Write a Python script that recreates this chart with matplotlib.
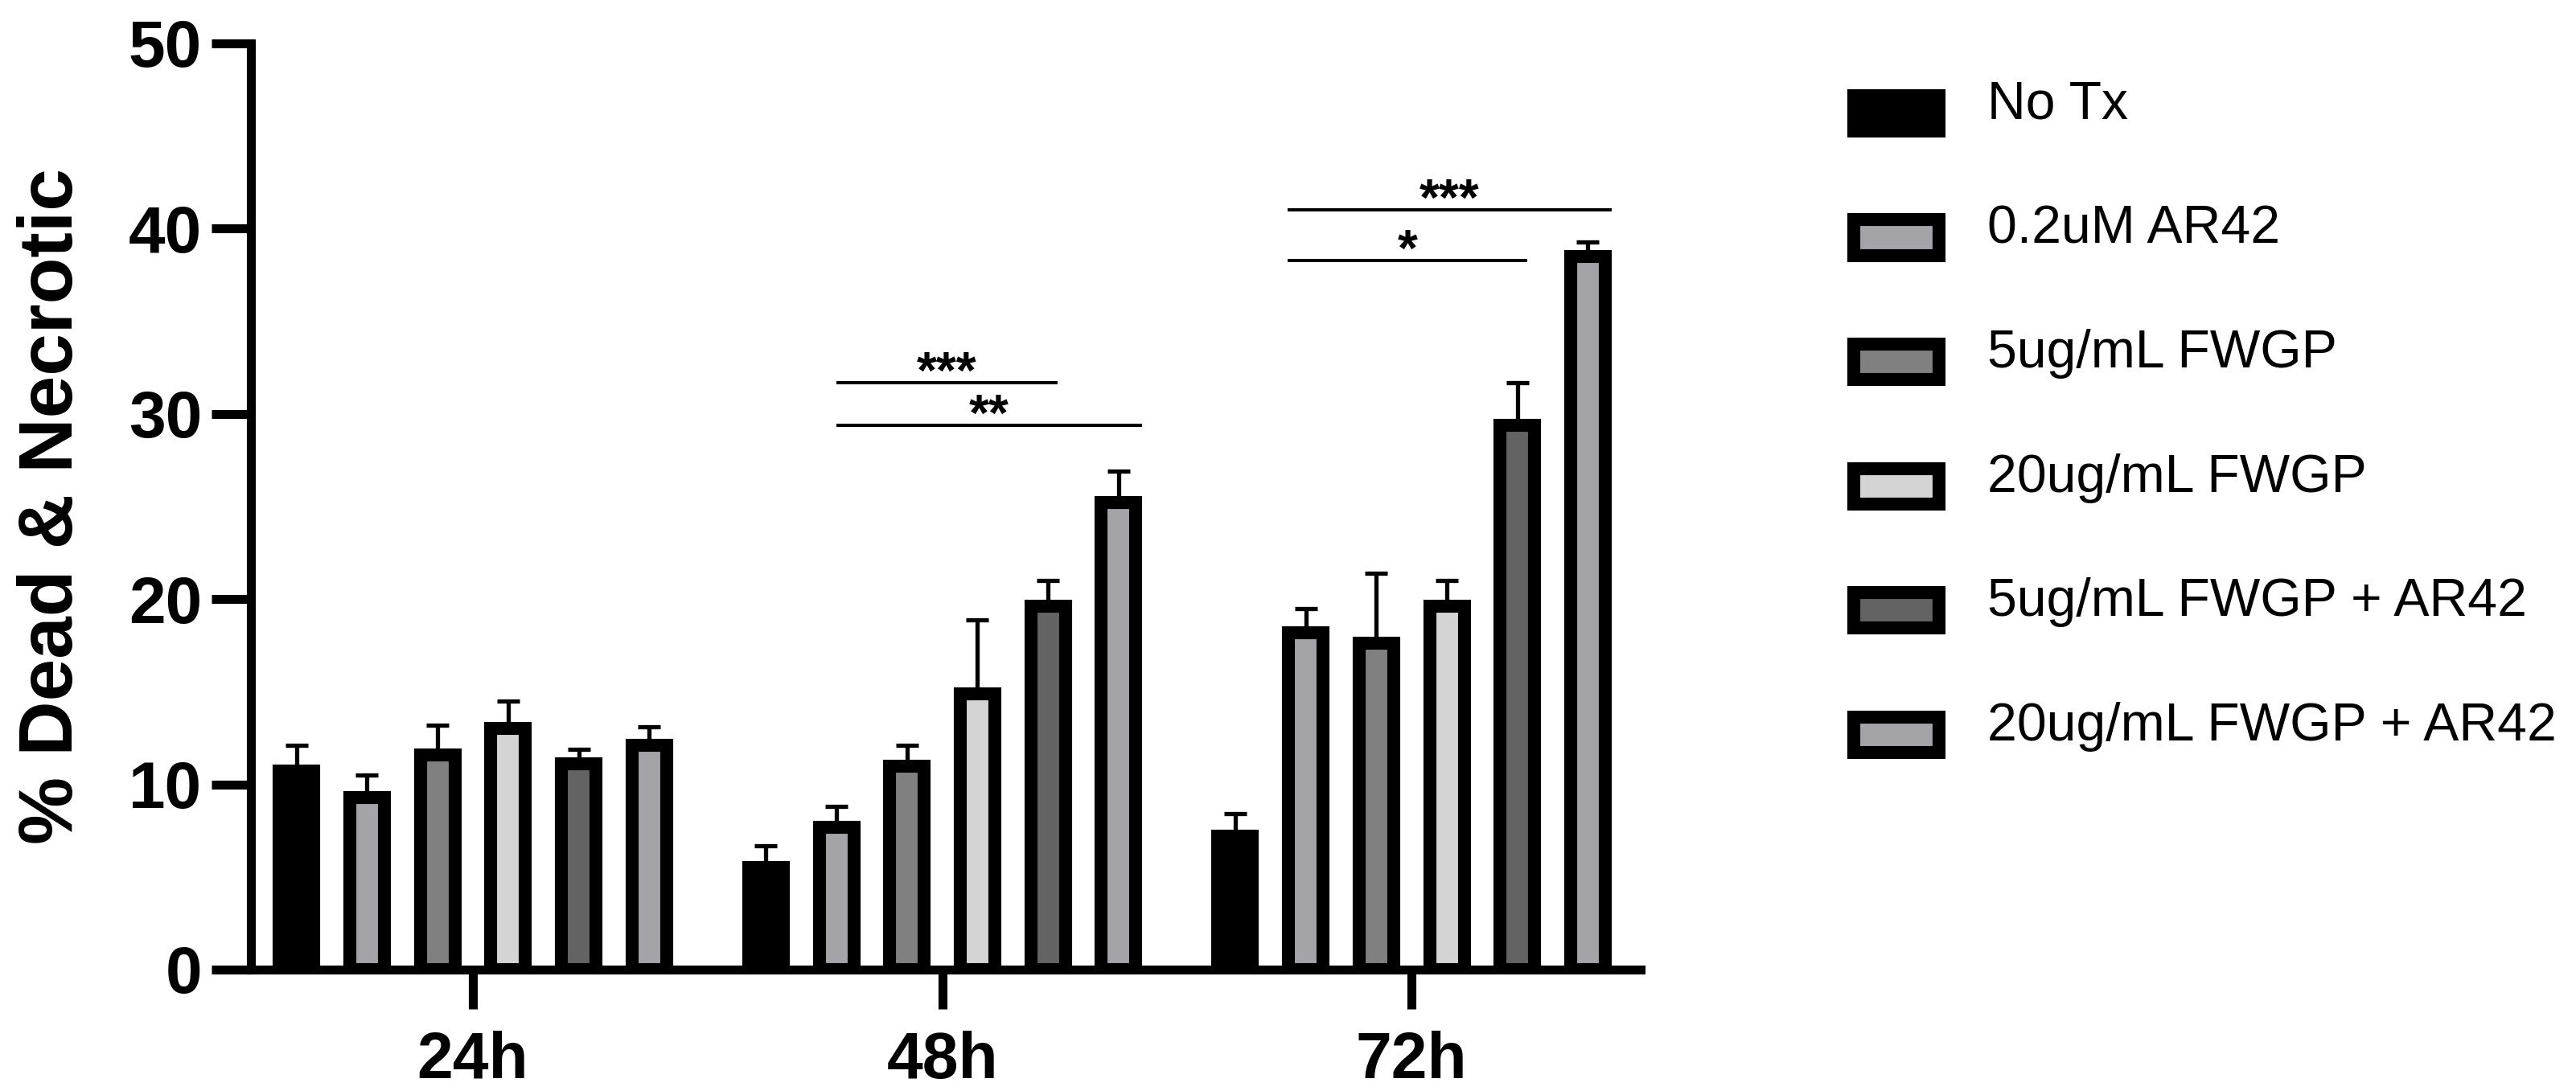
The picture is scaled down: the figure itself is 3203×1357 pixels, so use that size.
import matplotlib.pyplot as plt
import numpy as np
from matplotlib.legend_handler import HandlerPatch
from matplotlib.patches import Rectangle

plt.rcParams["font.family"] = ["Liberation Sans", "DejaVu Sans"]

# groups on the x axis
timepoints = ["24h", "48h", "72h"]

# treatments (one bar each per timepoint)
treatments = [
    "No Tx",
    "0.2uM AR42",
    "5ug/mL FWGP",
    "20ug/mL FWGP",
    "5ug/mL FWGP + AR42",
    "20ug/mL FWGP + AR42",
]
fill_colors = ["#000000", "#a4a3a8", "#808080", "#d4d4d4", "#636363", "#a4a3a8"]

# mean % dead & necrotic, rows = treatment, cols = 24h / 48h / 72h
mean_values = [
    [10.7, 5.5, 7.2],
    [9.3, 7.7, 18.2],
    [11.6, 11.0, 17.6],
    [13.0, 14.9, 19.6],
    [11.1, 19.6, 29.4],
    [12.1, 25.2, 38.5],
]
# upper error (SEM)
sem_values = [
    [1.4, 1.2, 1.2],
    [1.2, 1.1, 1.3],
    [1.6, 1.1, 3.8],
    [1.5, 4.0, 1.4],
    [0.8, 1.4, 2.3],
    [1.0, 1.7, 0.8],
]

# significance bars: (group, start slot, end slot, height, label)
comparisons = [
    (1, 1.0, 4.13, 31.7, "***"),
    (1, 1.0, 5.33, 29.4, "**"),
    (2, 0.74, 5.34, 41.0, "***"),
    (2, 0.74, 4.14, 38.3, "*"),
]

W, H, DPI = 3203, 1357, 200
fig = plt.figure(figsize=(W / DPI, H / DPI), dpi=DPI)
ax = fig.add_axes([312 / W, 1 - 1206 / H, (2040 - 312) / W, (1206 - 54) / H])

slot = 0.1503
bar_w = 0.0737
edge_lw = 5.8

group_x = np.arange(len(timepoints))
for i, name in enumerate(treatments):
    x = group_x + (i - 2.5) * slot
    ax.errorbar(x, mean_values[i], yerr=[np.zeros(len(x)), sem_values[i]],
                fmt="none", ecolor="black", elinewidth=1.9, capsize=5,
                capthick=1.9, zorder=1)
    ax.bar(x, mean_values[i], width=bar_w, color=fill_colors[i],
           edgecolor="black", linewidth=edge_lw, joinstyle="miter", zorder=2)

for grp, s0, s1, yv, lab in comparisons:
    x0 = grp + (s0 - 2.5) * slot
    x1 = grp + (s1 - 2.5) * slot
    ax.plot([x0, x1], [yv, yv], color="black", lw=1.45, solid_capstyle="butt")
    ax.text((x0 + x1) / 2, yv - 0.3, lab, ha="center", va="baseline",
            fontsize=23, fontweight="bold")

ax.set_xlim(-0.473, 2.488)
ax.set_ylim(0, 50)
ax.set_yticks(np.arange(0, 51, 10))
ax.set_xticks(group_x)
ax.set_xticklabels(timepoints)

for side in ["top", "right"]:
    ax.spines[side].set_visible(False)
for side in ["left", "bottom"]:
    ax.spines[side].set_linewidth(4)
    ax.spines[side].set_capstyle("projecting")

ax.tick_params(axis="both", width=4, length=17.6, color="black")
ax.tick_params(axis="y", labelsize=29.5, pad=4.3)
ax.tick_params(axis="x", labelsize=29, pad=9.7)
for lab in ax.get_xticklabels() + ax.get_yticklabels():
    lab.set_fontweight("bold")

ax.set_ylabel("% Dead & Necrotic", fontsize=34, fontweight="bold")
ax.yaxis.set_label_coords(-0.117, 0.5)


def legend_box(legend, orig_handle, xdescent, ydescent, width, height, fontsize):
    return Rectangle((-xdescent, -0.23 * fontsize), width, 0.67 * fontsize,
                     joinstyle="miter")


handles = [Rectangle((0, 0), 1, 1, facecolor=c, edgecolor="black",
                     linewidth=edge_lw, joinstyle="miter") for c in fill_colors]
fig.legend(handles, treatments, loc="upper left",
           bbox_to_anchor=(2305 / W, 1 - 100 / H), frameon=False,
           fontsize=23.8, handlelength=1.61, handleheight=0.67,
           handletextpad=0.9, labelspacing=1.40, borderpad=0, borderaxespad=0,
           handler_map={Rectangle: HandlerPatch(patch_func=legend_box)})

fig.savefig("out.png", dpi=DPI)
